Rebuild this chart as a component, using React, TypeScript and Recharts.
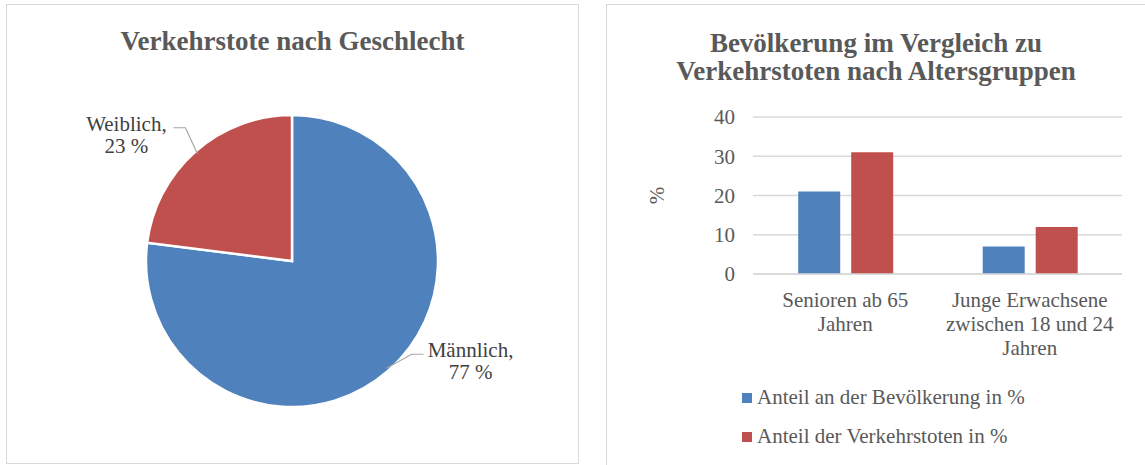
import {
  PieChart,
  Pie,
  Cell,
  BarChart,
  Bar,
  XAxis,
  YAxis,
  CartesianGrid,
  Legend,
} from 'recharts';

// Verkehrstote nach Geschlecht (%)
const genderNames = ['Männlich', 'Weiblich'];
const genderShares = [77, 23];

// Bevölkerung vs. Verkehrstote nach Altersgruppen (%)
const ageGroups = ['Senioren ab 65 Jahren', 'Junge Erwachsene zwischen 18 und 24 Jahren'];
const populationShare = [21, 7];
const fatalityShare = [31, 12];
const seriesNames = ['Anteil an der Bevölkerung in %', 'Anteil der Verkehrstoten in %'];
const yTicks = [0, 10, 20, 30, 40];

const BLUE = '#4f81bd';
const RED = '#c0504d';
const BORDER = '#d9d9d9';
const TEXT = '#595959';
const FONT = '"Liberation Serif", "Times New Roman", serif';

const pieData = genderNames.map((name, i) => ({ name, value: genderShares[i] }));
const pieColors = [BLUE, RED];

const barData = ageGroups.map((group, i) => ({
  group,
  pop: populationShare[i],
  dead: fatalityShare[i],
}));

// leader line bend, relative to the slice edge
const leaderBend: Record<string, { dx: number; dy: number }> = {
  Männlich: { dx: 25, dy: -14 },
  Weiblich: { dx: -12, dy: -26 },
};

function PieLabel(props: any) {
  const { cx, cy, midAngle, outerRadius, name, value } = props;
  const rad = Math.PI / 180;
  const ex = cx + (outerRadius - 3) * Math.cos(-midAngle * rad);
  const ey = cy + (outerRadius - 3) * Math.sin(-midAngle * rad);
  const bend = leaderBend[name] ?? { dx: 20, dy: -15 };
  const side = Math.cos(-midAngle * rad) >= 0 ? 1 : -1;
  const bx = ex + bend.dx;
  const by = ey + bend.dy;
  const endX = bx + side * 12;
  const tx = endX + side * 47;
  return (
    <g>
      <polyline
        points={`${ex},${ey} ${bx},${by} ${endX},${by}`}
        fill="none"
        stroke="#a6a6a6"
        strokeWidth={1.2}
      />
      <text x={tx} y={by + 3} textAnchor="middle" fill="#404040" fontSize={21} fontFamily={FONT}>
        {name},
      </text>
      <text x={tx} y={by + 25} textAnchor="middle" fill="#404040" fontSize={21} fontFamily={FONT}>
        {value} %
      </text>
    </g>
  );
}

function wrapWords(text: string, maxChars: number) {
  const lines: string[] = [];
  let cur = '';
  text.split(' ').forEach((w) => {
    const next = cur ? `${cur} ${w}` : w;
    if (next.length > maxChars && cur) {
      lines.push(cur);
      cur = w;
    } else {
      cur = next;
    }
  });
  if (cur) lines.push(cur);
  return lines;
}

function CategoryTick(props: any) {
  const { x, y, payload } = props;
  const lines = wrapWords(String(payload.value), 18);
  return (
    <text x={x} y={y} textAnchor="middle" fill={TEXT} fontSize={21} fontFamily={FONT}>
      {lines.map((l, i) => (
        <tspan key={i} x={x} dy={i === 0 ? 25 : 24}>
          {l}
        </tspan>
      ))}
    </text>
  );
}

function LegendBox() {
  return (
    <div style={{ fontFamily: FONT, fontSize: 21, color: TEXT }}>
      {seriesNames.map((n, i) => (
        <div key={n} style={{ display: 'flex', alignItems: 'center', height: 39 }}>
          <span
            style={{
              display: 'inline-block',
              width: 10,
              height: 10,
              background: i === 0 ? BLUE : RED,
              marginRight: 5,
            }}
          />
          <span>{n}</span>
        </div>
      ))}
    </div>
  );
}

export default function App() {
  return (
    <div
      style={{
        position: 'absolute',
        left: 0,
        top: 0,
        width: 1145,
        height: 465,
        overflow: 'hidden',
        background: '#fff',
        fontFamily: FONT,
      }}
    >
      {/* left panel */}
      <div
        style={{
          position: 'absolute',
          left: 6,
          top: 4,
          width: 573,
          height: 460,
          boxSizing: 'border-box',
          border: `1px solid ${BORDER}`,
        }}
      />
      <div
        style={{
          position: 'absolute',
          left: 6,
          top: 26,
          width: 573,
          textAlign: 'center',
          fontSize: 27,
          lineHeight: '30px',
          fontWeight: 'bold',
          color: TEXT,
        }}
      >
        Verkehrstote nach Geschlecht
      </div>
      <div style={{ position: 'absolute', left: 6, top: 4 }}>
        <PieChart width={572} height={458} margin={{ top: 0, right: 0, bottom: 0, left: 0 }}>
          <Pie
            data={pieData}
            dataKey="value"
            nameKey="name"
            cx={286}
            cy={257}
            outerRadius={146}
            startAngle={90}
            endAngle={-270}
            stroke="#fff"
            strokeWidth={2.5}
            label={PieLabel}
            labelLine={false}
            isAnimationActive={false}
          >
            {pieData.map((_, i) => (
              <Cell key={i} fill={pieColors[i]} />
            ))}
          </Pie>
        </PieChart>
      </div>

      {/* right panel */}
      <div
        style={{
          position: 'absolute',
          left: 606,
          top: 4,
          width: 600,
          height: 500,
          borderLeft: `1px solid ${BORDER}`,
          borderTop: `1px solid ${BORDER}`,
        }}
      />
      <div
        style={{
          position: 'absolute',
          left: 607,
          top: 29,
          width: 538,
          textAlign: 'center',
          fontSize: 27,
          lineHeight: '28px',
          fontWeight: 'bold',
          color: TEXT,
        }}
      >
        Bevölkerung im Vergleich zu
        <br />
        Verkehrstoten nach Altersgruppen
      </div>
      <div style={{ position: 'absolute', left: 606, top: 0 }}>
        <BarChart
          width={539}
          height={465}
          data={barData}
          margin={{ top: 117, right: 23, bottom: 111, left: 0 }}
          barCategoryGap="24.5%"
          barGap={11}
        >
          <CartesianGrid vertical={false} stroke={BORDER} strokeWidth={1.3} />
          <XAxis
            dataKey="group"
            height={80}
            axisLine={{ stroke: BORDER, strokeWidth: 1.3 }}
            tickLine={false}
            interval={0}
            tick={<CategoryTick />}
          />
          <YAxis
            width={147}
            domain={[0, 40]}
            ticks={yTicks}
            axisLine={false}
            tickLine={false}
            tickMargin={12}
            tick={{ fill: TEXT, fontSize: 21, fontFamily: FONT }}
            label={({ viewBox }: any) => {
              const lx = viewBox.x + 51;
              const ly = viewBox.y + viewBox.height / 2;
              return (
                <text
                  x={lx}
                  y={ly}
                  transform={`rotate(-90, ${lx}, ${ly})`}
                  textAnchor="middle"
                  dominantBaseline="central"
                  fill={TEXT}
                  fontSize={21}
                  fontFamily={FONT}
                >
                  %
                </text>
              );
            }}
          />
          <Legend
            layout="vertical"
            align="center"
            verticalAlign="middle"
            wrapperStyle={{ left: 136, top: 378, width: 380 }}
            content={<LegendBox />}
          />
          <Bar dataKey="pop" name={seriesNames[0]} fill={BLUE} isAnimationActive={false} />
          <Bar dataKey="dead" name={seriesNames[1]} fill={RED} isAnimationActive={false} />
        </BarChart>
      </div>
    </div>
  );
}
